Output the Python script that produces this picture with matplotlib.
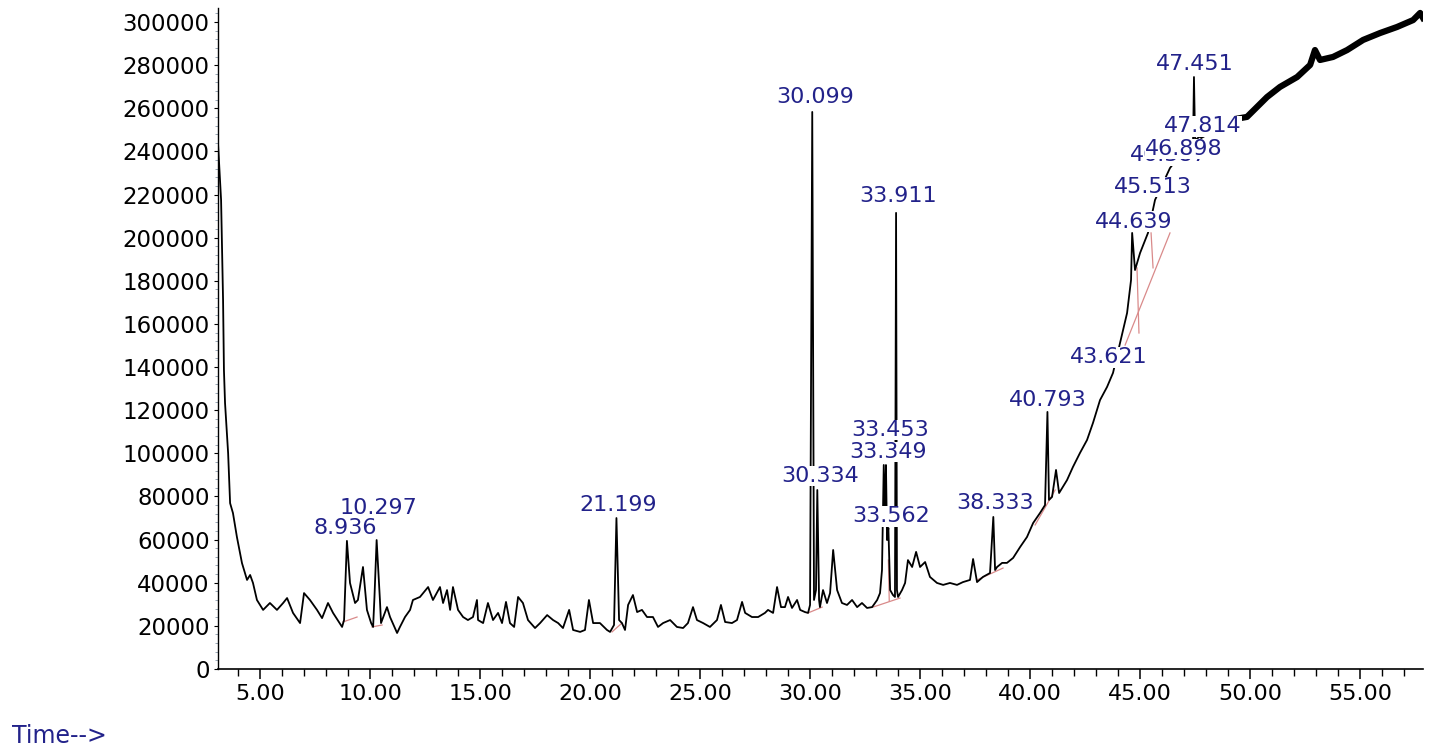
import numpy as np
import matplotlib.pyplot as plt
from matplotlib.ticker import MultipleLocator, FormatStrFormatter

# TIC trace (time in min, abundance)
time = [3.09, 3.23, 3.32, 3.36, 3.41, 3.55, 3.64, 3.77, 3.95, 4.18, 4.41, 4.55, 4.68, 4.86,
        5.14, 5.45, 5.77, 6.05, 6.23, 6.5, 6.82, 7.0, 7.27, 7.59, 7.82, 8.09, 8.32, 8.73,
        8.82, 8.95, 9.09, 9.32, 9.45, 9.68, 9.86, 10.05, 10.14, 10.2, 10.3, 10.45, 10.5,
        10.77, 10.91, 11.23, 11.36, 11.59, 11.82, 11.95, 12.27, 12.64, 12.86, 13.18, 13.32,
        13.5, 13.64, 13.77, 14.0, 14.23, 14.45, 14.68, 14.86, 14.91, 15.14, 15.36, 15.59,
        15.82, 16.0, 16.18, 16.36, 16.55, 16.73, 16.95, 17.18, 17.5, 17.73, 18.05, 18.32,
        18.55, 18.77, 19.05, 19.23, 19.55, 19.77, 19.95, 20.14, 20.45, 20.77, 20.91, 21.09,
        21.2, 21.32, 21.45, 21.59, 21.73, 21.95, 22.14, 22.36, 22.59, 22.86, 23.09, 23.32,
        23.64, 23.95, 24.23, 24.45, 24.68, 24.86, 25.14, 25.45, 25.77, 25.95, 26.14, 26.45,
        26.68, 26.91, 27.05, 27.36, 27.64, 27.95, 28.09, 28.32, 28.5, 28.68, 28.86, 29.0,
        29.18, 29.41, 29.55, 29.77, 29.91, 30.0, 30.1, 30.18, 30.27, 30.33, 30.41, 30.45,
        30.59, 30.77, 30.91, 31.05, 31.23, 31.45, 31.68, 31.91, 32.14, 32.36, 32.59, 32.82,
        33.05, 33.18, 33.27, 33.35, 33.41, 33.45, 33.5, 33.56, 33.64, 33.77, 33.86, 33.91,
        33.95, 34.0, 34.18, 34.32, 34.45, 34.64, 34.82, 35.0, 35.23, 35.45, 35.77, 36.05,
        36.36, 36.68, 36.95, 37.27, 37.41, 37.59, 37.86, 38.18, 38.33, 38.41, 38.5, 38.73,
        38.95, 39.23, 39.55, 39.86, 40.14, 40.45, 40.68, 40.79, 40.86, 41.0, 41.18, 41.32,
        41.68, 41.95, 42.27, 42.59, 42.86, 43.18, 43.5, 43.77, 44.09, 44.41, 44.59, 44.64,
        44.77, 45.0, 45.36, 45.68, 46.0, 46.36, 46.82, 47.27, 47.41, 47.45, 47.5, 47.82,
        48.41, 49.09, 49.86, 50.77, 51.36, 52.14, 52.73, 52.95, 53.18, 53.77, 54.41, 55.14,
        55.91, 56.68, 57.41, 57.73, 57.86]
abundance = [243900, 217500, 171100, 138600, 123300, 100100, 76900, 72300, 61200, 49100,
             41300, 43600, 39900, 32000, 27400, 30600, 27400, 30600, 32900, 26000, 21300,
             35200, 32000, 27400, 23600, 30600, 26000, 19500, 22700, 59400, 39900, 30600,
             32000, 47300, 27400, 21300, 19500, 33000, 59800, 32000, 21300, 28700, 24100,
             16700, 19500, 24100, 27400, 32000, 33400, 38000, 32000, 38000, 30600, 36600,
             27400, 38000, 27400, 24100, 22700, 24100, 32000, 22700, 21300, 30600, 22700,
             26000, 21300, 31100, 21300, 19500, 33400, 30600, 22700, 19000, 21300, 25000,
             22700, 21300, 19000, 27400, 18100, 17200, 18100, 32000, 21300, 21300, 18100,
             17200, 20400, 70000, 22700, 21300, 18100, 29700, 34300, 26400, 27400, 24100,
             24100, 19500, 21300, 22700, 19500, 19000, 21300, 28700, 22700, 21300, 19500,
             22700, 29700, 21800, 21300, 22700, 31100, 26000, 24100, 24100, 26000, 27400,
             26000, 38000, 28700, 28700, 33400, 28300, 32000, 27400, 26400, 26000, 29700,
             258300, 32000, 36600, 83000, 32000, 28700, 36600, 30600, 35200, 55200, 36600,
             30600, 29700, 32000, 28700, 30600, 28300, 28700, 32000, 35200, 45900, 94600,
             69100, 94600, 59800, 65400, 36600, 34300, 33400, 211500, 36600, 33400, 36600,
             39900, 50500, 47300, 54300, 47300, 49600, 42700, 39900, 39000, 39900, 39000,
             40300, 41300, 51000, 40300, 42700, 44500, 70500, 45900, 47300, 49200, 49200,
             51500, 56600, 61200, 67700, 72300, 76000, 119200, 78400, 79800, 92300, 81600,
             87600, 93700, 100200, 106200, 114100, 124700, 130800, 137300, 151200, 165100,
             180400, 202200, 185000, 192900, 202200, 217500, 224400, 232300, 238300, 243000,
             245300, 274500, 245300, 247600, 250900, 254600, 256000, 265200, 269900, 274500,
             280100, 287000, 282400, 283800, 287000, 291700, 294900, 297700, 300900, 304200,
             301900]

# integration baselines (start time, start abundance, end time, end abundance)
base_t0 = [8.77, 10.09, 21.0, 29.91, 32.86, 33.56, 37.59, 40.23, 44.32, 45.5, 44.86]
base_a0 = [21800, 19500, 17200, 26000, 28700, 50500, 41300, 66800, 150200, 202200, 186000]
base_t1 = [9.41, 10.55, 21.45, 30.55, 34.09, 33.6, 38.77, 41.14, 46.36, 45.59, 44.95]
base_a1 = [24100, 20400, 21300, 28700, 32900, 31500, 46800, 83000, 202200, 186000, 155800]

# peak labels and where they sit
peak_labels = ["8.936", "10.297", "21.199", "30.099", "30.334", "33.349", "33.453",
               "33.562", "33.911", "38.333", "40.793", "43.621", "44.639", "45.513",
               "46.387", "46.898", "47.814", "47.451"]
label_t = [8.86, 10.36, 21.27, 30.23, 30.45, 33.55, 33.64, 33.68, 34.0, 38.41, 40.82,
           43.59, 44.73, 45.59, 46.31, 46.99, 47.86, 47.48]
label_a = [65400, 74700, 76000, 265200, 89500, 100600, 110800, 70900, 219300, 77000,
           124700, 144600, 207300, 223500, 238200, 241100, 251600, 280600]

navy = '#22228a'

fig = plt.figure(figsize=(14.36, 7.52), dpi=100)
ax = fig.add_axes([218 / 1436, 1 - 669 / 752, (1423 - 218) / 1436, (669 - 8) / 752])

t = np.array(time)
a = np.array(abundance)
ax.plot(t, a, color='black', lw=1.3, zorder=3)
late = t >= 47.8
ax.plot(t[late], a[late], color='black', lw=4.5, zorder=3)

for i in range(len(base_t0)):
    ax.plot([base_t0[i], base_t1[i]], [base_a0[i], base_a1[i]],
            color='#d98a8a', lw=0.9, zorder=2)

for i, s in enumerate(peak_labels):
    ax.text(label_t[i], label_a[i], s, ha='center', va='center', color=navy,
            fontsize=16, zorder=5 + i,
            bbox=dict(facecolor='white', edgecolor='none', pad=0.3))

ax.set_xlim(3.09, 57.86)
ax.set_ylim(0, 306500)
ax.spines['top'].set_visible(False)
ax.spines['right'].set_visible(False)
ax.spines['left'].set_linewidth(1.0)
ax.spines['bottom'].set_linewidth(1.2)

ax.xaxis.set_major_locator(MultipleLocator(5))
ax.xaxis.set_minor_locator(MultipleLocator(1))
ax.xaxis.set_major_formatter(FormatStrFormatter('%.2f'))
ax.yaxis.set_major_locator(MultipleLocator(20000))
ax.yaxis.set_minor_locator(MultipleLocator(4000))
ax.tick_params(axis='x', which='major', length=7, width=1.1, labelsize=16, pad=4)
ax.tick_params(axis='x', which='minor', length=5, width=1.0)
ax.tick_params(axis='y', which='major', length=3, width=0.8, labelsize=16.5, pad=3)
ax.tick_params(axis='y', which='minor', length=2, width=0.6, colors='#8899aa')
ax.tick_params(axis='y', which='minor', labelleft=False)
for lab in ax.get_yticklabels():
    lab.set_color('black')

fig.text(12 / 1436, 1 - 736 / 752, 'Time-->', color=navy, fontsize=17,
         ha='left', va='center')

fig.savefig('out.png', dpi=100)
